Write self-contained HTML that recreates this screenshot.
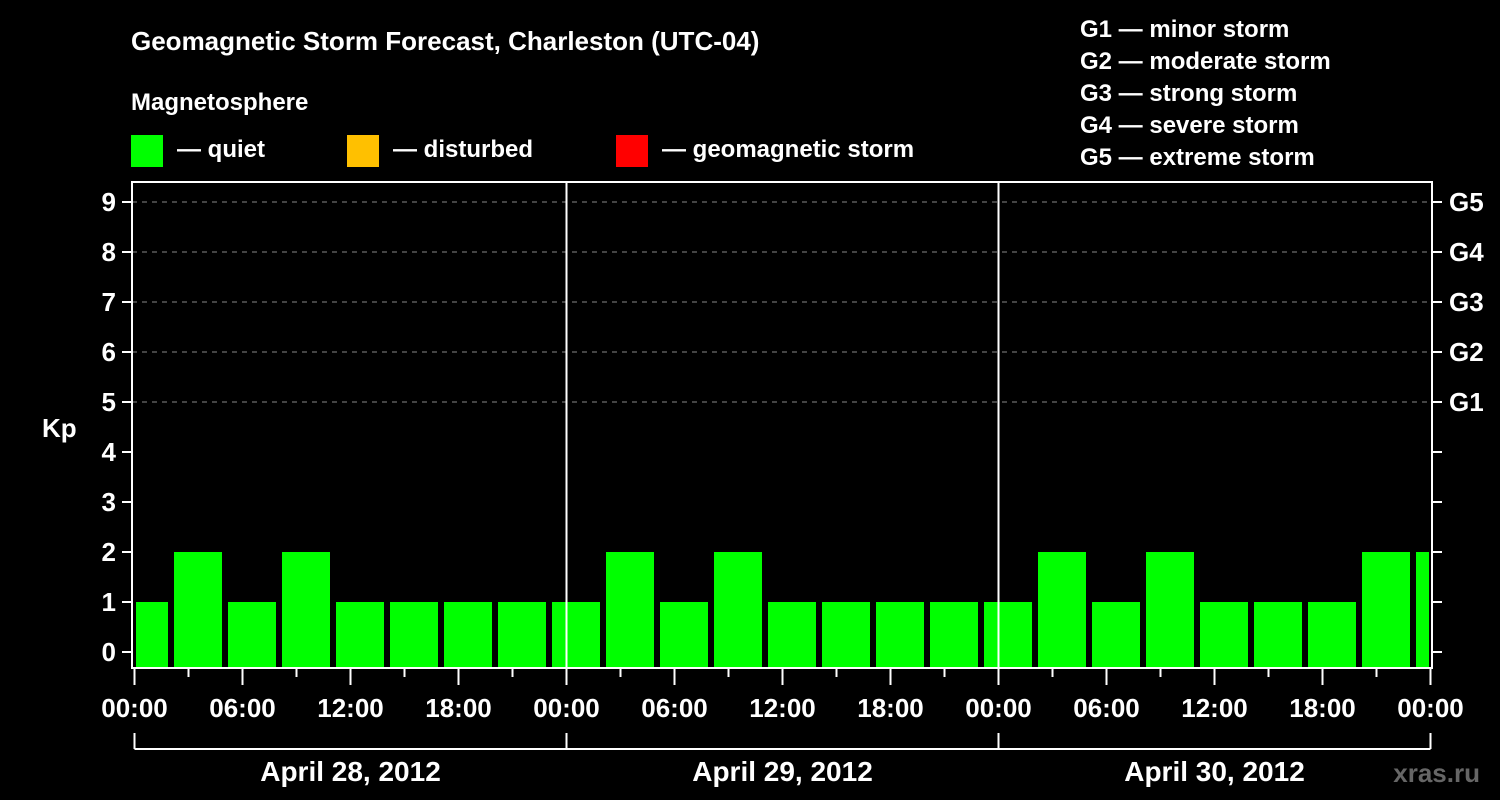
<!DOCTYPE html>
<html><head><meta charset="utf-8"><style>
html,body{margin:0;padding:0;background:#000;}
svg{display:block;font-family:"Liberation Sans",Arial,sans-serif;font-weight:bold;}
</style></head><body>
<svg id="chart" width="1500" height="800" viewBox="0 0 1500 800">
<rect width="1500" height="800" fill="#000"/>
<text x="131" y="50" fill="#fff" font-size="26">Geomagnetic Storm Forecast, Charleston (UTC-04)</text>
<text x="131" y="110" fill="#fff" font-size="24">Magnetosphere</text>
<g><rect x="131" y="135" width="32" height="32" fill="#00ff00"/><text x="177" y="157" fill="#fff" font-size="24">— quiet</text></g>
<g><rect x="347" y="135" width="32" height="32" fill="#ffc000"/><text x="393" y="157" fill="#fff" font-size="24">— disturbed</text></g>
<g><rect x="616" y="135" width="32" height="32" fill="#ff0000"/><text x="662" y="157" fill="#fff" font-size="24">— geomagnetic storm</text></g>
<g fill="#fff" font-size="24">
<text x="1080" y="37">G1 — minor storm</text>
<text x="1080" y="69">G2 — moderate storm</text>
<text x="1080" y="101">G3 — strong storm</text>
<text x="1080" y="133">G4 — severe storm</text>
<text x="1080" y="165">G5 — extreme storm</text>
</g>
<text x="42" y="437" fill="#fff" font-size="26">Kp</text>
<text x="1480" y="782" fill="#666" font-size="26" text-anchor="end">xras.ru</text>
<g id="plot"></g>
</svg>
<script>
const kpValues=[1,2,1,2,1,1,1,1,1,2,1,2,1,1,1,1,1,2,1,2,1,1,1,2,2];
const dayLabels=["April 28, 2012","April 29, 2012","April 30, 2012"];
const hourLabels=["00:00","06:00","12:00","18:00"];
const yTicks=[0,1,2,3,4,5,6,7,8,9];
const gLabels=["G1","G2","G3","G4","G5"];
const gLevels=[5,6,7,8,9];

const NS="http://www.w3.org/2000/svg";
const X0=134.5,PXH=18,Y0=652,PXK=50,TOP=182,BOT=668,LEFT=132,RIGHT=1432;
const xs=h=>X0+h*PXH, ys=k=>Y0-k*PXK;
const plot=document.getElementById('plot');
function mk(tag,attrs,parent){const e=document.createElementNS(NS,tag);for(const k in attrs)e.setAttribute(k,attrs[k]);(parent||plot).appendChild(e);return e;}

// grid
gLevels.forEach(k=>{
 const l=mk('line',{x1:LEFT,x2:RIGHT,y1:ys(k),y2:ys(k),stroke:'#888','stroke-width':1,'stroke-dasharray':'5,5'});
 
 
});
// bars
kpValues.forEach((v,i)=>{
 let x1=xs(3*i)-14.5,x2=x1+48;
 x1=Math.max(x1,LEFT+4);x2=Math.min(x2,RIGHT-3);
 const r=mk('rect',{x:x1,y:ys(v),width:x2-x1,height:BOT-ys(v),fill:'#00ff00'});
 
 
});
// day separators
for(let d=1;d<dayLabels.length;d++){
 const l=mk('line',{x1:xs(24*d),x2:xs(24*d),y1:TOP,y2:BOT,stroke:'#fff','stroke-width':2});
 
 
}
// frame
const f=mk('rect',{x:LEFT,y:TOP,width:RIGHT-LEFT,height:BOT-TOP,fill:'none',stroke:'#fff','stroke-width':2});


// y ticks
yTicks.forEach(k=>{
 mk('line',{x1:LEFT-10,x2:LEFT,y1:ys(k),y2:ys(k),stroke:'#fff','stroke-width':2});
 mk('line',{x1:RIGHT,x2:RIGHT+10,y1:ys(k),y2:ys(k),stroke:'#fff','stroke-width':2});
 const t=mk('text',{x:LEFT-16,y:ys(k)+9,fill:'#fff','font-size':26,'text-anchor':'end'});
 t.textContent=k;
 
 
});
gLabels.forEach((g,i)=>{
 const t=mk('text',{x:RIGHT+17,y:ys(gLevels[i])+9,fill:'#fff','font-size':26});
 t.textContent=g;
 
 
});
// x ticks
const nDays=dayLabels.length;
for(let h=0;h<=24*nDays;h+=3){
 const major=h%6===0;
 mk('line',{x1:xs(h),x2:xs(h),y1:BOT,y2:BOT+(major?17:9),stroke:'#fff','stroke-width':2});
 if(major){
  const t=mk('text',{x:xs(h),y:717,fill:'#fff','font-size':26,'text-anchor':'middle'});
  t.textContent=hourLabels[(h/6)%4];
  
  
 }
}
// day brackets
mk('line',{x1:xs(0),x2:xs(24*nDays),y1:749,y2:749,stroke:'#fff','stroke-width':2});
for(let d=0;d<=nDays;d++) mk('line',{x1:xs(24*d),x2:xs(24*d),y1:733,y2:749,stroke:'#fff','stroke-width':2});
dayLabels.forEach((s,d)=>{
 const t=mk('text',{x:xs(24*d+12),y:781,fill:'#fff','font-size':28,'text-anchor':'middle'});
 t.textContent=s;
 
 
});
</script>
</body></html>
